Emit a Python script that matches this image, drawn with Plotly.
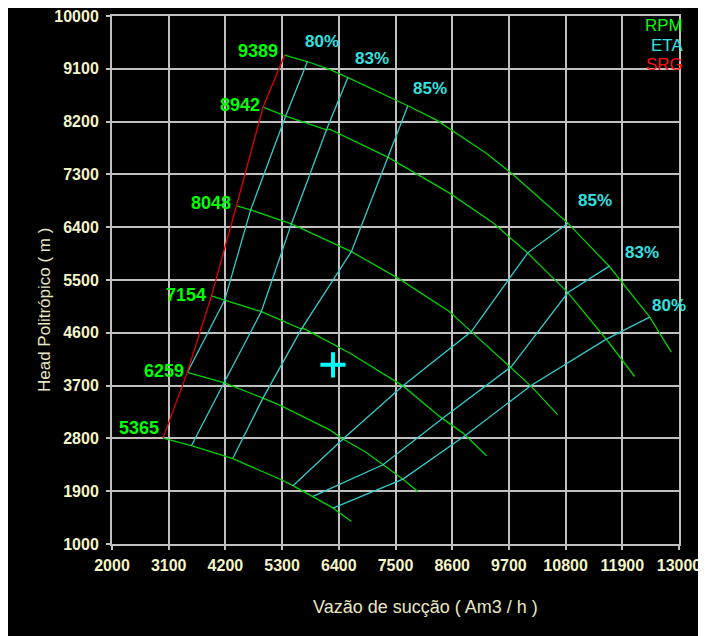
import plotly.graph_objects as go

# ---------------- data ----------------
x_ticks = [2000, 3100, 4200, 5300, 6400, 7500, 8600, 9700, 10800, 11900, 13000]
y_ticks = [1000, 1900, 2800, 3700, 4600, 5500, 6400, 7300, 8200, 9100, 10000]

rpm_names = ["9389", "8942", "8048", "7154", "6259", "5365"]

rpm_9389_x = [5350, 5800, 6220, 6580, 7740, 8290, 9260, 9750, 10820, 11650, 12430, 12850]
rpm_9389_y = [9335, 9220, 9090, 8950, 8470, 8230, 7660, 7320, 6490, 5730, 4870, 4270]

rpm_8942_x = [4930, 5370, 6160, 6220, 7350, 8550, 9390, 10070, 10840, 11590, 12140]
rpm_8942_y = [8445, 8295, 8060, 8070, 7595, 6980, 6475, 5955, 5290, 4490, 3855]

rpm_8048_x = [4415, 4690, 5480, 6610, 6645, 7580, 8550, 8970, 9715, 10125, 10645]
rpm_8048_y = [6765, 6695, 6455, 5985, 5984, 5515, 4960, 4620, 4025, 3695, 3205]

rpm_7154_x = [3930, 4185, 4900, 5675, 5705, 6610, 7645, 8355, 8810, 9265]
rpm_7154_y = [5230, 5155, 4960, 4665, 4680, 4255, 3695, 3175, 2890, 2505]

rpm_6259_x = [3460, 4185, 4930, 5285, 6225, 6480, 6935, 7255, 7645, 7935]
rpm_6259_y = [3925, 3745, 3485, 3355, 2945, 2790, 2560, 2350, 2105, 1895]

rpm_5365_x = [2990, 3540, 4345, 5285, 5510, 5900, 6285, 6645]
rpm_5365_y = [2805, 2675, 2455, 2095, 1995, 1810, 1615, 1385]

srg_x = [2990, 3460, 3930, 4415, 4930, 5350]
srg_y = [2805, 3925, 5230, 6765, 8445, 9335]

eta_names = ["80%", "83%", "85%", "85%", "83%", "80%"]

eta_l80_x = [5790, 5370, 4690, 4186, 3470]
eta_l80_y = [9221, 8296, 6695, 5157, 3935]

eta_l83_x = [6578, 6159, 5480, 4898, 4153, 3540]
eta_l83_y = [8955, 8058, 6456, 4962, 3714, 2675]

eta_l85_x = [7737, 7354, 6644, 5674, 4929, 4347]
eta_l85_y = [8466, 7593, 5984, 4663, 3487, 2465]

eta_r85_x = [10846, 10070, 8972, 7645, 6481, 5511]
eta_r85_y = [6468, 5967, 4622, 3697, 2789, 1993]

eta_r83_x = [11655, 10846, 9748, 8421, 7257, 5899]
eta_r83_y = [5740, 5286, 4025, 3146, 2351, 1811]

eta_r80_x = [12431, 11591, 10123, 8875, 7645, 6287]
eta_r80_y = [4867, 4492, 3697, 2862, 2107, 1613]

op_x = [6287]
op_y = [4054]

legend_items = ["RPM", "ETA", "SRG"]

# ---------------- styles ----------------
GREEN_LINE = "#00d000"
GREEN_TXT = "#00ff00"
CYAN_LINE = "#30cccc"
CYAN_TXT = "#33e0e0"
RED_LINE = "#e00000"
RED_TXT = "#ff1010"
GRID = "#c0c0c0"
TICK_TXT = "#f4f4c8"
TITLE_TXT = "#e8e8c0"

rpm_curves = [
    (rpm_9389_x, rpm_9389_y), (rpm_8942_x, rpm_8942_y), (rpm_8048_x, rpm_8048_y),
    (rpm_7154_x, rpm_7154_y), (rpm_6259_x, rpm_6259_y), (rpm_5365_x, rpm_5365_y),
]
eta_curves = [
    (eta_l80_x, eta_l80_y), (eta_l83_x, eta_l83_y), (eta_l85_x, eta_l85_y),
    (eta_r85_x, eta_r85_y), (eta_r83_x, eta_r83_y), (eta_r80_x, eta_r80_y),
]
# pixel offsets of labels relative to the first point of each curve
rpm_label_shift = [(-5, 4), (-1, 2), (-3, 3), (-3, 1), (-1, 1), (-2, 10)]
eta_label_shift = [(15, 20), (24, 19), (22, 17), (27, 23), (32, 13), (19, 12)]

fig = go.Figure()

for cx, cy in rpm_curves:
    fig.add_trace(go.Scatter(x=cx, y=cy, mode="lines",
                             line=dict(color=GREEN_LINE, width=1.3),
                             hoverinfo="skip", showlegend=False))
for cx, cy in eta_curves:
    fig.add_trace(go.Scatter(x=cx, y=cy, mode="lines",
                             line=dict(color=CYAN_LINE, width=1.3),
                             hoverinfo="skip", showlegend=False))
fig.add_trace(go.Scatter(x=srg_x, y=srg_y, mode="lines",
                         line=dict(color=RED_LINE, width=1.3),
                         hoverinfo="skip", showlegend=False))
fig.add_trace(go.Scatter(x=op_x, y=op_y, mode="markers",
                         marker=dict(symbol="cross-thin", size=18,
                                     line=dict(color="#00ffff", width=4)),
                         hoverinfo="skip", showlegend=False))

annotations = []
for name, (cx, cy), (dx, dy) in zip(rpm_names, rpm_curves, rpm_label_shift):
    annotations.append(dict(x=cx[0], y=cy[0], xref="x", yref="y", text=name,
                            showarrow=False, xanchor="right", yanchor="middle",
                            xshift=dx, yshift=dy,
                            font=dict(family="Liberation Sans", size=18, color=GREEN_TXT,
                                      weight="bold")))
for name, (cx, cy), (dx, dy) in zip(eta_names, eta_curves, eta_label_shift):
    annotations.append(dict(x=cx[0], y=cy[0], xref="x", yref="y", text=name,
                            showarrow=False, xanchor="center", yanchor="middle",
                            xshift=dx, yshift=dy,
                            font=dict(family="Liberation Sans", size=17, color=CYAN_TXT,
                                      weight="bold")))

# screen-pixel placed texts (converted to paper fractions below)
screen_texts = []
legend_colors = [GREEN_TXT, CYAN_TXT, RED_TXT]
for i, (name, col) in enumerate(zip(legend_items, legend_colors)):
    screen_texts.append(dict(sx=685, sy=25 + i * 20, text=name, showarrow=False,
                             xanchor="right", yanchor="middle",
                             font=dict(family="Liberation Sans", size=17, color=col)))
screen_texts.append(dict(sx=425, sy=607, text="Vazão de sucção ( Am3 / h )",
                         showarrow=False, xanchor="center", yanchor="middle",
                         font=dict(family="Liberation Sans", size=18, color=TITLE_TXT)))
screen_texts.append(dict(sx=44, sy=310, text="Head Politrópico ( m )",
                         showarrow=False, textangle=-90,
                         xanchor="center", yanchor="middle",
                         font=dict(family="Liberation Sans", size=17, color=TITLE_TXT)))

# page body has an 8px margin: shrink the figure so it fits the 706x636 window
OFF = 8
W, H = 706 - OFF, 636 - OFF
L, R, T, B = 112 - OFF, 27, 16 - OFF, 92
PW, PH = W - L - R, H - T - B
for s in screen_texts:
    sx, sy = s.pop("sx"), s.pop("sy")
    s["xref"] = "paper"
    s["yref"] = "paper"
    s["x"] = (sx - OFF - L) / PW
    s["y"] = (H - (sy - OFF) - B) / PH
    annotations.append(s)

axis_common = dict(showgrid=True, gridcolor=GRID, gridwidth=2,
                   showline=True, linecolor=GRID, linewidth=2, mirror=True,
                   ticks="outside", ticklen=4, tickcolor=GRID, tickwidth=2,
                   zeroline=False, automargin=False, ticklabeloverflow="allow",
                   tickfont=dict(family="Liberation Sans", size=16, color=TICK_TXT,
                                 weight="bold"))

fig.update_layout(
    width=W, height=H,
    margin=dict(l=L, r=R, t=T, b=B, pad=0),
    paper_bgcolor="black", plot_bgcolor="black",
    showlegend=False,
    annotations=annotations,
    xaxis=dict(range=[2000, 13000], tickvals=x_ticks,
               ticktext=[str(v) for v in x_ticks], ticklabelstandoff=2,
               **axis_common),
    yaxis=dict(range=[1000, 10000], tickvals=y_ticks,
               ticktext=[str(v) for v in y_ticks], ticklabelstandoff=4,
               **axis_common),
)

fig.write_html("out.html")
